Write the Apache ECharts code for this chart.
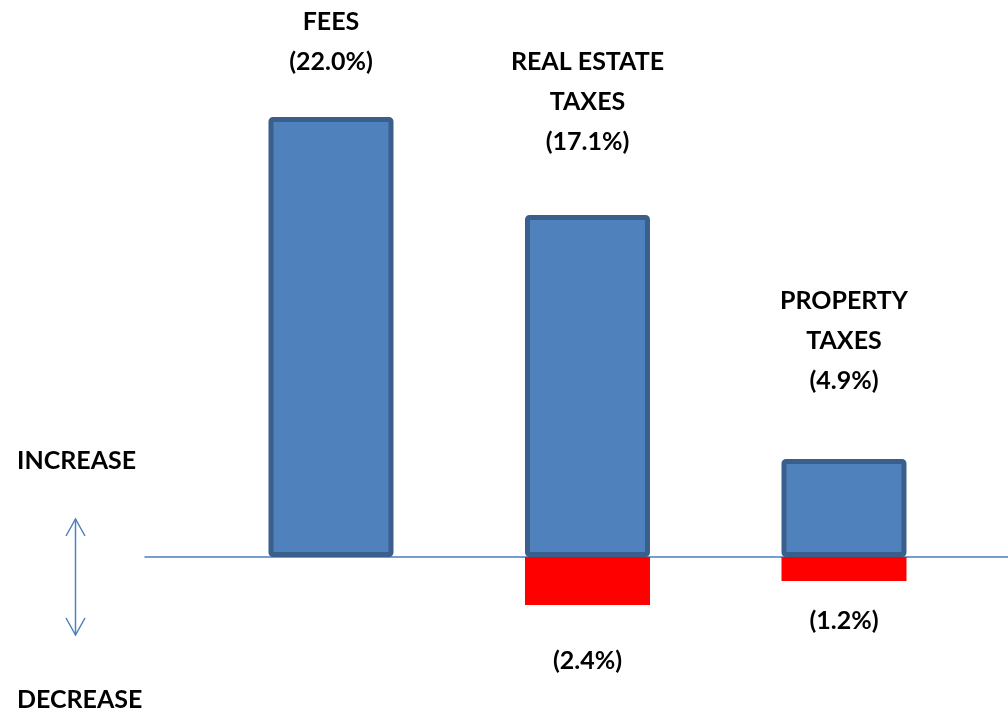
<!DOCTYPE html>
<html>
<head>
<meta charset="utf-8">
<script src="https://cdn.jsdelivr.net/npm/echarts@6/dist/echarts.min.js"></script>
<style>
  html, body { margin: 0; padding: 0; background: #fff; }
  #chartDom { width: 1008px; height: 712px; }
</style>
</head>
<body>
<div id="chartDom"></div>
<script>
// 数据
const categories = ['FEES', 'REAL ESTATE\nTAXES', 'PROPERTY\nTAXES']
const positions = [1, 2, 3]
const increases = [22.0, 17.1, 4.9]
const decreases = [null, -2.4, -1.2]

const FONT = 'Lato, "Open Sans", sans-serif'
const WEIGHT = 'bold'

// 标签与柱子的间距（画面上各不相同）
const upGap = [35, 53, 58]
const downGap = [0, 36, 20]

const chartDom = document.getElementById('chartDom')
const echartsInstance = echarts.init(chartDom)

const options = {
  animation: false,
  grid: { left: 145, right: 0, top: 57, bottom: 55 },
  xAxis: {
    type: 'value',
    min: 0.2749,
    max: 3.6394,
    axisLine: { onZero: true, lineStyle: { color: '#4a7ebb', width: 1.5 } },
    axisTick: { show: false },
    axisLabel: { show: false },
    splitLine: { show: false },
  },
  yAxis: {
    type: 'value',
    min: -5,
    max: 25,
    show: false,
    splitLine: { show: false },
  },
  series: [
    {
      name: 'increase',
      type: 'bar',
      barWidth: 125,
      barGap: '-100%',
      z: 3,
      itemStyle: {
        color: '#4f81bd',
        borderColor: '#3a5f8d',
        borderWidth: 5,
        borderRadius: 2,
      },
      data: increases.map((v, i) => ({
        value: [positions[i], v],
        label: { distance: upGap[i] },
      })),
      label: {
        show: true,
        position: 'top',
        fontFamily: FONT,
        fontWeight: WEIGHT,
        fontSize: 25,
        lineHeight: 40,
        color: '#000',
        formatter: (p) => categories[p.dataIndex] + '\n(' + p.value[1].toFixed(1) + '%)',
      },
    },
    {
      name: 'decrease',
      type: 'bar',
      barWidth: 125,
      barGap: '-100%',
      z: 2,
      itemStyle: {
        color: '#ff0000',
        borderColor: '#ff0000',
        borderWidth: 5,
      },
      data: decreases.map((v, i) => ({
        value: [positions[i], v],
        label: { distance: downGap[i] },
      })),
      label: {
        show: true,
        position: 'bottom',
        fontFamily: FONT,
        fontWeight: WEIGHT,
        fontSize: 25,
        lineHeight: 40,
        color: '#000',
        formatter: (p) => (p.value[1] == null ? '' : '(' + Math.abs(p.value[1]).toFixed(1) + '%)'),
      },
    },
  ],
  graphic: [
    {
      type: 'text',
      left: 17,
      top: 448,
      style: { text: 'INCREASE', font: WEIGHT + ' 25px ' + FONT, fill: '#000' },
    },
    {
      type: 'text',
      left: 17,
      top: 687,
      style: { text: 'DECREASE', font: WEIGHT + ' 25px ' + FONT, fill: '#000' },
    },
    // 双向箭头
    {
      type: 'group',
      children: [
        { type: 'line', shape: { x1: 75.5, y1: 519, x2: 75.5, y2: 635 }, style: { stroke: '#4f81bd', lineWidth: 1.5 } },
        { type: 'polyline', shape: { points: [[66, 536], [75.5, 519], [85, 536]] }, style: { stroke: '#4f81bd', lineWidth: 1.5, fill: null } },
        { type: 'polyline', shape: { points: [[66, 618], [75.5, 635], [85, 618]] }, style: { stroke: '#4f81bd', lineWidth: 1.5, fill: null } },
      ],
    },
  ],
}

echartsInstance.setOption(options)
</script>
</body>
</html>
